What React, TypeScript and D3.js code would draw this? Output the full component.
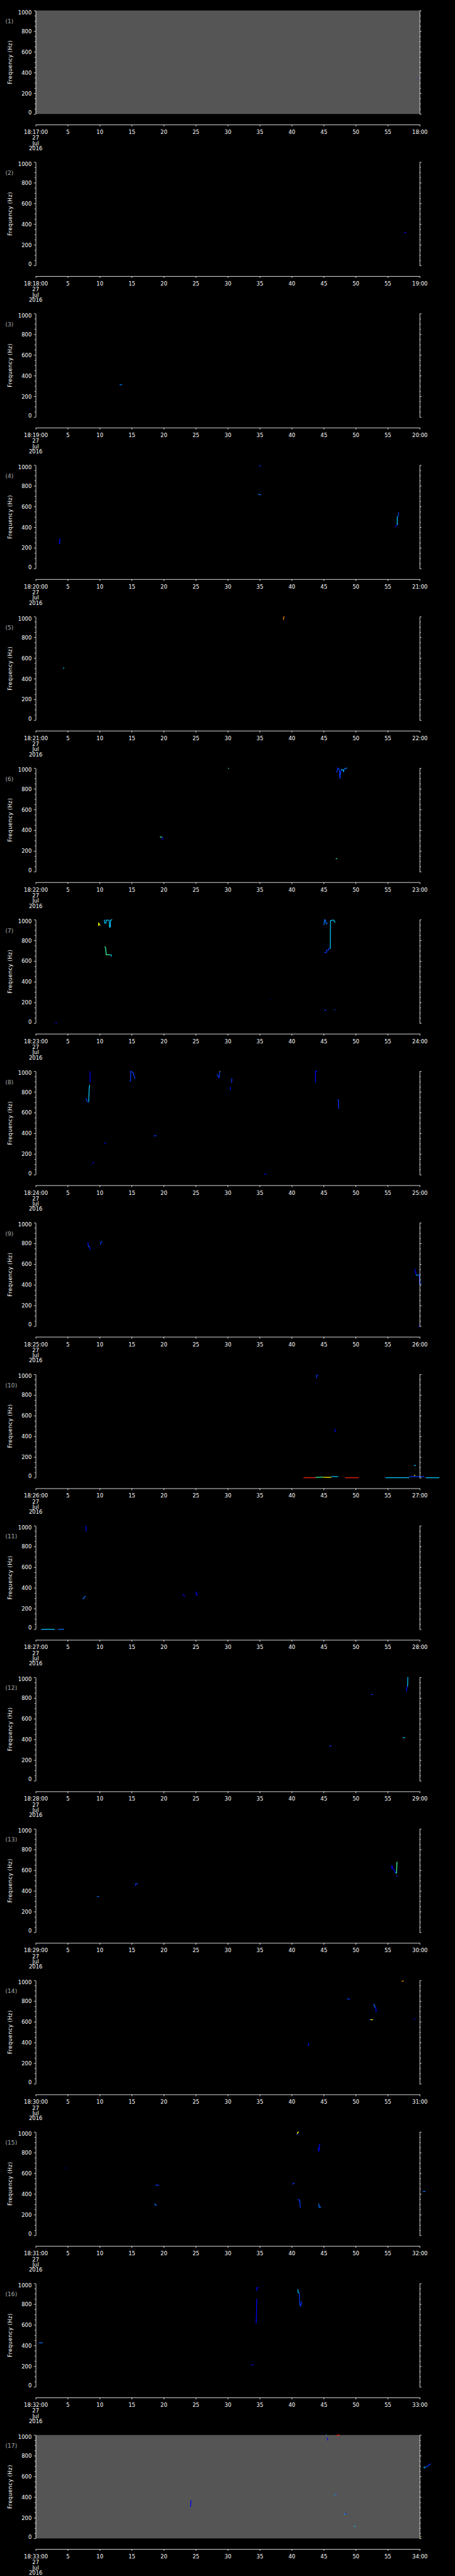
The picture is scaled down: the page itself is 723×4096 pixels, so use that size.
import React, { useEffect, useRef } from 'react';
import * as d3 from 'd3';

// minute each panel starts at (18:MM:00), 27 Jul 2016
const startMinutes = [17, 18, 19, 20, 21, 22, 23, 24, 25, 26, 27, 28, 29, 30, 31, 32, 33];
const grayPanels = [1, 17];
const freqTicks = [0, 200, 400, 600, 800, 1000];
const freqMinorTicks = [50, 100, 150, 250, 300, 350, 450, 500, 550, 650, 700, 750, 850, 900, 950];
const secTicks = [0, 5, 10, 15, 20, 25, 30, 35, 40, 45, 50, 55, 60];
const dateLines = ['27', 'Jul', '2016'];

// tracks: l = intensity level, pts = [seconds, Hz]
const panel1Tracks = [{ l: 1, pts: [[59.75, 346], [59.85, 346]] }];
const panel2Tracks = [{ l: 0, pts: [[57.6, 319], [57.9, 319]] }];
const panel3Tracks = [{ l: 2, pts: [[13.1, 312], [13.5, 312]] }];
const panel4Tracks = [
  { l: 0, pts: [[3.6, 241], [3.75, 241], [3.75, 284], [3.9, 284]] },
  { l: 1, pts: [[34.9, 997], [35.0, 995], [35.1, 986]] },
  { l: 2, pts: [[34.75, 718], [35.0, 716], [35.2, 713]] },
  { l: 0, pts: [[56.2, 400], [56.4, 420], [56.5, 420]] },
  { l: 3, pts: [[56.5, 420], [56.5, 500], [56.6, 500]] },
  { l: 1, pts: [[56.6, 500], [56.65, 506], [56.7, 543]] },
];
const panel5Tracks = [
  { l: 3, pts: [[4.27, 504], [4.48, 500]] },
  { l: 6, pts: [[38.7, 968], [38.75, 996], [38.9, 996]] },
];
const panel6Tracks = [
  { l: 4, pts: [[30.06, 998], [30.2, 998]] },
  { l: 1, pts: [[47.0, 959], [47.14, 978], [47.18, 1000], [47.3, 1000], [47.48, 978], [47.52, 897], [47.6, 931], [47.65, 959], [47.74, 987]] },
  { l: 3, pts: [[47.74, 987], [47.91, 987], [48.03, 978], [48.12, 963]] },
  { l: 2, pts: [[48.12, 963], [48.16, 987], [48.33, 996], [48.55, 1000], [48.68, 1000]] },
  { l: 4, pts: [[19.4, 335], [19.8, 333]] },
  { l: 0, pts: [[19.8, 333], [19.8, 318], [20.0, 316]] },
  { l: 4, pts: [[46.9, 127], [47.1, 123]] },
];
const panel7Tracks = [
  { l: 5, pts: [[9.8, 940], [9.85, 966], [9.97, 953], [10.1, 944]] },
  { l: 3, pts: [[10.72, 1000], [10.8, 966], [10.97, 966], [11.02, 996], [11.4, 996], [11.49, 987], [11.53, 929], [11.66, 929], [11.7, 996], [11.96, 1000]] },
  { l: 4, pts: [[10.8, 742], [10.93, 728], [11.02, 661], [11.66, 661]] },
  { l: 3, pts: [[11.66, 661], [11.78, 661], [11.87, 644]] },
  { l: 0, pts: [[36.5, 230], [36.6, 230]] },
  { l: 0, pts: [[3.07, 0], [3.3, 0]] },
  { l: 1, pts: [[45.1, 125], [45.4, 125]] },
  { l: 1, pts: [[46.6, 129], [46.8, 129]] },
  { l: 2, pts: [[45.05, 948], [45.13, 1000], [45.26, 996], [45.35, 972], [45.47, 959], [45.6, 966]] },
  { l: 1, pts: [[45.09, 682], [45.43, 682], [45.43, 704], [45.69, 704], [45.77, 719], [46.03, 719]] },
  { l: 3, pts: [[46.03, 719], [46.07, 991], [46.33, 996], [46.58, 996], [46.71, 979], [46.84, 976]] },
];
const panel8Tracks = [
  { l: 1, pts: [[7.9, 738], [7.98, 716], [8.16, 703], [8.28, 703]] },
  { l: 3, pts: [[8.28, 703], [8.37, 847], [8.45, 865], [8.5, 865]] },
  { l: 0, pts: [[8.5, 1000], [8.5, 893]] },
  { l: 0, pts: [[8.84, 114], [9.14, 114]] },
  { l: 0, pts: [[10.7, 306], [11.0, 306]] },
  { l: 1, pts: [[14.69, 903], [14.82, 903], [14.86, 1000], [15.03, 996], [15.24, 981], [15.37, 959], [15.5, 931], [15.58, 931]] },
  { l: 1, pts: [[18.45, 376], [18.9, 376]] },
  { l: 1, pts: [[28.27, 968], [28.48, 959], [28.6, 940], [28.69, 940], [28.74, 1000]] },
  { l: 5, pts: [[28.74, 1000], [28.82, 1000]] },
  { l: 0, pts: [[30.4, 847], [30.45, 819]] },
  { l: 1, pts: [[30.53, 890], [30.62, 897], [30.66, 929], [30.7, 929]] },
  { l: 0, pts: [[43.72, 893], [43.72, 1000], [43.98, 1000]] },
  { l: 1, pts: [[47.14, 725], [47.31, 721], [47.35, 641], [47.4, 641]] },
  { l: 0, pts: [[35.7, 4], [36.0, 4]] },
];
const panel9Tracks = [
  { l: 0, pts: [[8.15, 813], [8.24, 770]] },
  { l: 3, pts: [[8.24, 770], [8.41, 770]] },
  { l: 0, pts: [[8.41, 770], [8.45, 760], [8.5, 738]] },
  { l: 1, pts: [[10.12, 788], [10.2, 816], [10.46, 816]] },
  { l: 0, pts: [[59.27, 556], [59.35, 522], [59.44, 494]] },
  { l: 3, pts: [[59.44, 494], [59.74, 494]] },
  { l: 1, pts: [[59.74, 494], [59.95, 494], [60.0, 410], [60.3, 410]] },
  { l: 0, pts: [[59.8, 0], [60.1, 0]] },
];
const panel10Tracks = [
  { l: 1, pts: [[43.85, 963], [43.94, 993], [44.1, 993]] },
  { l: 0, pts: [[46.7, 473], [46.8, 449], [46.9, 449]] },
  { l: 3, pts: [[59.1, 118], [59.4, 118]] },
  { l: 5, pts: [[59.1, 24], [59.3, 24]] },
  { l: 7, pts: [[41.85, 0], [43.72, 0]] },
  { l: 4, pts: [[43.72, 4], [44.92, 6]] },
  { l: 5, pts: [[44.92, 4], [46.2, 4]] },
  { l: 3, pts: [[46.2, 11], [47.27, 11]] },
  { l: 7, pts: [[48.34, 0], [50.47, 0]] },
  { l: 3, pts: [[54.65, 0], [58.37, 0]] },
  { l: 1, pts: [[58.37, 11], [60.72, 11]] },
  { l: 3, pts: [[60.93, 0], [63.07, 0]] },
];
const panel11Tracks = [
  { l: 0, pts: [[7.86, 1000], [7.86, 953], [7.99, 949]] },
  { l: 2, pts: [[7.34, 294], [7.56, 298], [7.64, 316], [7.81, 320]] },
  { l: 0, pts: [[23.06, 339], [23.14, 326], [23.36, 320]] },
  { l: 0, pts: [[25.06, 363], [25.1, 335], [25.23, 330], [25.36, 330]] },
  { l: 3, pts: [[0.85, 0], [2.99, 0]] },
  { l: 2, pts: [[3.5, 0], [4.44, 0]] },
];
const panel12Tracks = [
  { l: 1, pts: [[45.9, 331], [46.03, 338], [46.2, 335]] },
  { l: 1, pts: [[52.4, 836], [52.7, 832]] },
  { l: 3, pts: [[57.34, 417], [57.69, 417]] },
  { l: 0, pts: [[57.94, 862], [58.03, 912], [58.11, 912]] },
  { l: 3, pts: [[58.11, 912], [58.15, 1000], [58.2, 1000]] },
];
const panel13Tracks = [
  { l: 2, pts: [[9.6, 348], [9.9, 345]] },
  { l: 1, pts: [[15.58, 451], [15.67, 472], [15.93, 468]] },
  { l: 0, pts: [[55.59, 616], [55.68, 640], [55.8, 616], [55.93, 607], [56.06, 601], [56.19, 573]] },
  { l: 3, pts: [[56.19, 573], [56.4, 573]] },
  { l: 4, pts: [[56.4, 573], [56.44, 676], [56.53, 680]] },
  { l: 1, pts: [[56.3, 543], [56.5, 543]] },
];
const panel14Tracks = [
  { l: 0, pts: [[42.57, 366], [42.7, 394]] },
  { l: 1, pts: [[48.68, 828], [48.76, 819], [49.1, 819]] },
  { l: 2, pts: [[52.78, 772], [52.9, 763], [52.95, 744], [53.12, 744]] },
  { l: 0, pts: [[53.12, 744], [53.2, 697], [53.24, 697]] },
  { l: 1, pts: [[52.13, 620], [52.3, 620]] },
  { l: 5, pts: [[52.3, 620], [52.69, 620]] },
  { l: 0, pts: [[59.05, 624], [59.3, 624]] },
  { l: 6, pts: [[57.2, 990], [57.5, 996]] },
];
const panel15Tracks = [
  { l: 0, pts: [[4.65, 650], [4.8, 650]] },
  { l: 1, pts: [[18.74, 491], [18.92, 483], [19.3, 487]] },
  { l: 2, pts: [[18.53, 303], [18.66, 301], [18.79, 290], [18.92, 290]] },
  { l: 1, pts: [[40.78, 972], [40.86, 981]] },
  { l: 5, pts: [[40.86, 981], [40.95, 996], [41.12, 1000]] },
  { l: 0, pts: [[44.1, 845], [44.28, 813], [44.32, 875], [44.49, 875]] },
  { l: 1, pts: [[40.14, 491], [40.26, 504], [40.43, 504]] },
  { l: 1, pts: [[40.95, 345], [41.16, 345], [41.2, 331], [41.29, 331], [41.33, 270], [41.37, 270]] },
  { l: 2, pts: [[44.15, 303], [44.24, 303], [44.28, 273], [44.58, 273]] },
  { l: 2, pts: [[60.5, 425], [60.9, 425]] },
];
const panel16Tracks = [
  { l: 2, pts: [[0.5, 426], [1.07, 426]] },
  { l: 0, pts: [[33.73, 211], [34.03, 219]] },
  { l: 0, pts: [[34.33, 622], [34.46, 622], [34.54, 843], [34.67, 843]] },
  { l: 0, pts: [[34.46, 931], [34.54, 931], [34.59, 959], [34.84, 959]] },
  { l: 3, pts: [[40.95, 944], [41.03, 912], [41.16, 907]] },
  { l: 1, pts: [[41.16, 907], [41.2, 903], [41.29, 791], [41.37, 781], [41.46, 800], [41.54, 819], [41.63, 824]] },
];
const panel17Tracks = [
  { l: 0, pts: [[24.1, 311], [24.2, 311], [24.24, 361], [24.42, 365]] },
  { l: 0, pts: [[45.55, 975], [45.65, 948]] },
  { l: 3, pts: [[45.35, 1000], [45.45, 1000]] },
  { l: 7, pts: [[47.0, 991], [47.2, 1000], [47.5, 1000]] },
  { l: 3, pts: [[46.7, 424], [46.85, 424]] },
  { l: 1, pts: [[46.85, 426], [47.0, 428]] },
  { l: 3, pts: [[48.2, 235], [48.35, 235]] },
  { l: 1, pts: [[48.35, 238], [48.6, 242]] },
  { l: 3, pts: [[49.75, 117], [49.98, 117]] },
  { l: 3, pts: [[60.6, 690], [60.75, 683], [60.93, 693]] },
  { l: 1, pts: [[60.93, 693], [61.2, 693], [61.4, 708], [61.76, 722]] },
  { l: 5, pts: [[60.15, 17], [60.25, 17]] },
];

const panelTracks = [
  panel1Tracks, panel2Tracks, panel3Tracks, panel4Tracks, panel5Tracks, panel6Tracks,
  panel7Tracks, panel8Tracks, panel9Tracks, panel10Tracks, panel11Tracks, panel12Tracks,
  panel13Tracks, panel14Tracks, panel15Tracks, panel16Tracks, panel17Tracks,
];

const W = 1024;
const H = 5802;
const FONT = '"DejaVu Sans", sans-serif';

const App = () => {
  const svgRef = useRef(null);

  useEffect(() => {
    const svg = d3.select(svgRef.current);
    svg.selectAll('*').remove();

    const panelH = H / startMinutes.length;
    const left = 80.3, right = 944.5, top = 23.7, bottom = 256.7, xAxisY = 280.7;

    const x = d3.scaleLinear().domain([0, 60]).range([left, right]);
    const y = d3.scaleLinear().domain([0, 1000]).range([bottom, top]);
    const color = d3.scaleOrdinal<number, string>()
      .domain([0, 1, 2, 3, 4, 5, 6, 7])
      .range(['#0000ff', '#0038ff', '#0078ff', '#00c8ff', '#40ffa0', '#ffff00', '#ff8c00', '#ff2000']);
    const line = d3.line().x(d => x(d[0])).y(d => y(d[1]));

    svg.append('rect').attr('width', W).attr('height', H).attr('fill', '#000');

    startMinutes.forEach((m, i) => {
      const g = svg.append('g').attr('transform', `translate(0,${i * panelH})`);

      if (grayPanels.includes(i + 1)) {
        g.append('rect')
          .attr('x', left).attr('y', top)
          .attr('width', right - left).attr('height', bottom - top)
          .attr('fill', '#555555');
      }

      // frequency tracks
      g.selectAll('.track')
        .data(panelTracks[i])
        .join('path')
        .attr('class', 'track')
        .attr('d', d => line(d.pts))
        .attr('fill', 'none')
        .attr('stroke', d => color(d.l))
        .attr('stroke-width', 1.8);

      // left axis
      const yMinorL = g.append('g').attr('transform', `translate(${left},0)`)
        .call(d3.axisLeft(y).tickValues(freqMinorTicks).tickSize(2.5).tickSizeOuter(0).tickFormat(() => ''));
      yMinorL.select('.domain').remove();
      const yL = g.append('g').attr('transform', `translate(${left},0)`)
        .call(d3.axisLeft(y).tickValues(freqTicks).tickSize(4).tickSizeOuter(0).tickPadding(5).tickFormat(d3.format('d')));
      yL.selectAll('text')
        .attr('font-family', FONT).attr('font-size', 12).attr('fill', '#fff')
        .attr('dy', d => (d === 1000 ? '0.71em' : d === 0 ? '0' : '0.35em'))
        .attr('y', d => (d === 1000 ? -0.5 : d === 0 ? 0.5 : 0));

      // right axis
      const yMinorR = g.append('g').attr('transform', `translate(${right},0)`)
        .call(d3.axisRight(y).tickValues(freqMinorTicks).tickSize(2.5).tickSizeOuter(0).tickFormat(() => ''));
      yMinorR.select('.domain').remove();
      g.append('g').attr('transform', `translate(${right},0)`)
        .call(d3.axisRight(y).tickValues(freqTicks).tickSize(4).tickSizeOuter(0).tickFormat(() => ''));

      // time axis
      const endLabel = `${m + 1}:00`;
      const xA = g.append('g').attr('transform', `translate(0,${xAxisY})`)
        .call(d3.axisBottom(x).tickValues(secTicks).tickSize(4).tickSizeOuter(0).tickPadding(8.5)
          .tickFormat(d => (d === 0 ? `18:${m}:00` : d === 60 ? endLabel : String(d))));
      xA.selectAll('text').attr('font-family', FONT).attr('font-size', 12).attr('fill', '#fff');

      g.selectAll('.domain, .tick line').attr('stroke', '#fff').attr('stroke-width', 1.2);

      g.selectAll('.date-line')
        .data(dateLines)
        .join('text')
        .attr('class', 'date-line')
        .attr('x', left)
        .attr('y', (d, k) => 315 + k * 11.7)
        .attr('text-anchor', 'middle')
        .attr('font-family', FONT).attr('font-size', 12).attr('fill', '#fff')
        .text(d => d);

      g.append('text')
        .attr('transform', `translate(26.5,${(top + bottom) / 2}) rotate(-90)`)
        .attr('text-anchor', 'middle')
        .attr('font-family', FONT).attr('font-size', 12).attr('letter-spacing', 0.6)
        .attr('fill', '#fff')
        .text('Frequency (Hz)');

      g.append('text')
        .attr('x', 12).attr('y', 52.5)
        .attr('font-family', FONT).attr('font-size', 13)
        .attr('fill', '#aaaaaa')
        .text(`(${i + 1})`);
    });
  }, []);

  return (
    <svg
      ref={svgRef}
      width={723}
      height={4096}
      viewBox={`0 0 ${W} ${H}`}
      preserveAspectRatio="none"
      style={{ position: 'absolute', left: 0, top: 0, display: 'block', background: '#000' }}
    />
  );
};

export default App;
